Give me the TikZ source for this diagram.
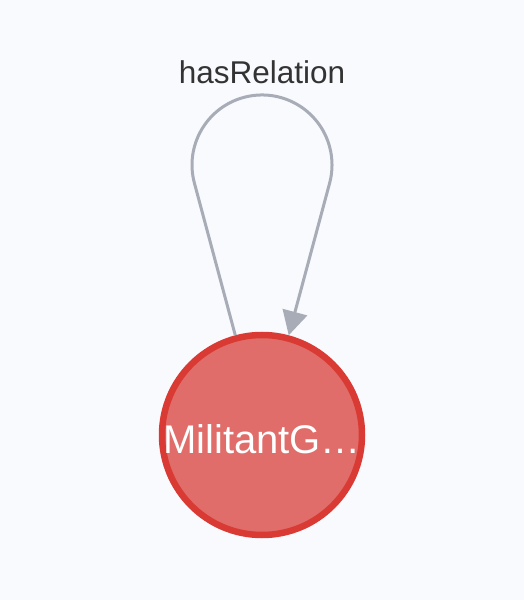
\documentclass[tikz,border=0pt]{standalone}
\usepackage{fontspec}
\setmainfont{Liberation Sans}
\usetikzlibrary{arrows.meta}
\definecolor{bgcolor}{RGB}{249,250,254}
\definecolor{nodeborder}{RGB}{217,59,52}
\definecolor{nodefill}{RGB}{224,109,105}
\definecolor{edgecolor}{RGB}{168,172,183}
\definecolor{labelcolor}{RGB}{51,51,51}

\begin{document}
\begin{tikzpicture}[x=1pt, y=1pt, >=Triangle]

  \tikzset{
    entity/.style={
      draw=nodeborder, fill=nodefill, circle, line width=6.5pt,
      minimum size=200pt, inner sep=0pt
    },
    entitytext/.style={
      text=white, inner sep=0pt, font=\fontsize{40}{42}\selectfont
    },
    rel/.style={
      draw=edgecolor, line width=3pt
    },
    rellabel/.style={
      text=labelcolor, inner sep=0pt, font=\fontsize{31.5}{34}\selectfont
    }
  }

  % ---- canvas ----
  \fill[bgcolor] (0,0) rectangle (524,600);

  % ---- entity ----
  \node[entity] (mil) at (262,165) {};
  \node[entitytext] (miltext) at (262,161) {MilitantG…};

  % ---- self loop ----
  \draw[rel, -{Triangle[length=24pt, width=25pt]}]
    (mil.105) -- (194.4,416.9)
    arc[start angle=195, end angle=-15, radius=70] -- (mil.75);
  \node[rellabel] (haslbl) at (262,528) {hasRelation};

\end{tikzpicture}
\end{document}
